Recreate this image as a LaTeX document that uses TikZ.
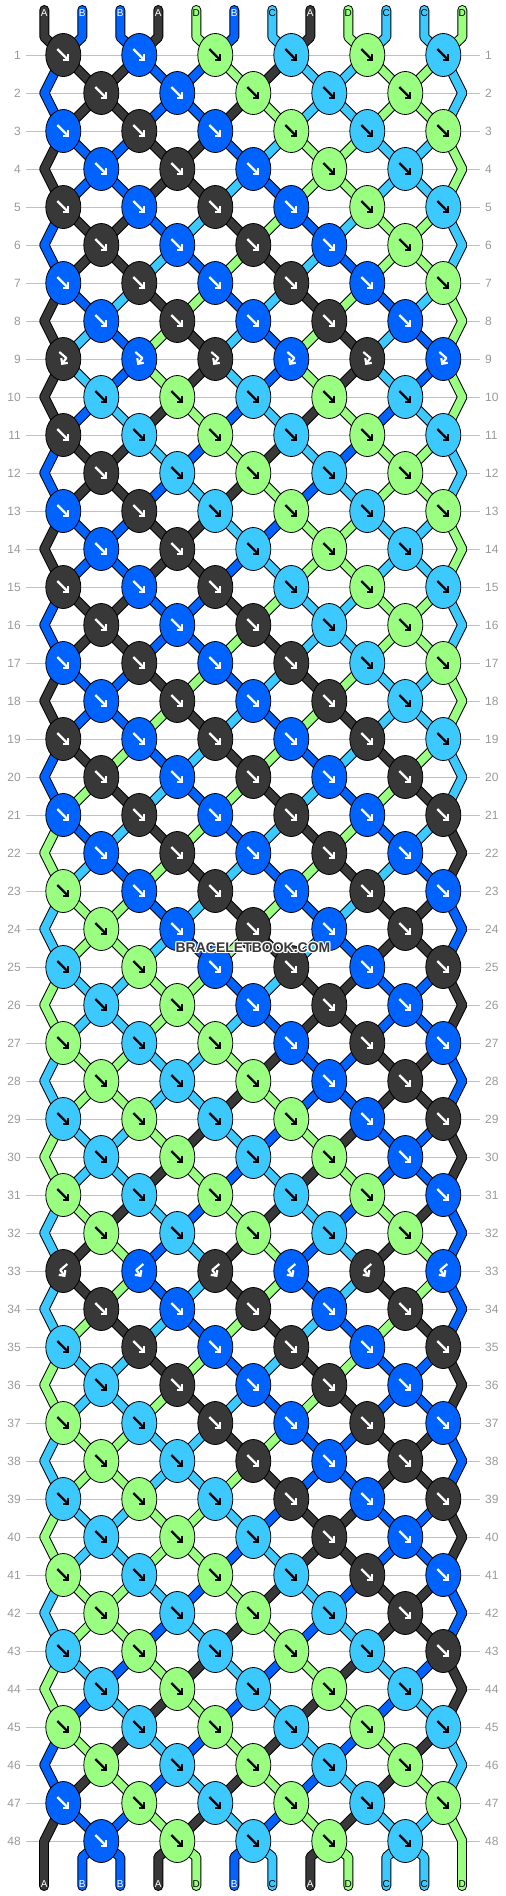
\documentclass[tikz,border=0pt]{standalone}
\usepackage{fontspec}
\setmainfont{Liberation Sans}
\usetikzlibrary{arrows.meta}
\usetikzlibrary{shapes.geometric}

\definecolor{colA}{HTML}{383838}
\definecolor{colB}{HTML}{0062FF}
\definecolor{colC}{HTML}{3BC9FF}
\definecolor{colD}{HTML}{9AFF80}
\colorlet{arrA}{white}
\colorlet{arrB}{white}
\colorlet{arrC}{black}
\colorlet{arrD}{black}
\definecolor{rowgray}{HTML}{999999}
\definecolor{linegray}{HTML}{C0C0C0}

\pgfdeclarelayer{grid}
\pgfdeclarelayer{threadout}
\pgfdeclarelayer{threadin}
\pgfsetlayers{grid,threadout,threadin,main}

\def\typef{f}
\def\typebf{bf}

\tikzset{
  knot/.style={ellipse,draw=black,line width=0.8pt,minimum width=35pt,minimum height=43pt,inner sep=0pt},
  karrow/.style={line width=2.2pt,line join=round,-{Straight Barb[length=4pt,width=8pt]}},
  outline/.style={draw=black,line width=10pt,line cap=round,line join=round},
  thread/.style={draw=col#1,line width=8pt,line cap=round,line join=round},
  rownum/.style={font=\fontsize{12}{12}\selectfont,text=rowgray,inner sep=0pt},
  endlabel/.style={font=\fontsize{10}{10}\selectfont,inner sep=0pt},
  gridline/.style={draw=linegray,line width=1pt},
  tipf/.pic={\draw[karrow] (-6,-6) -- (6,6);},
  tipfb/.pic={\draw[karrow] (-4,-7) -- (3,-1) -- (-2,6);},
  tipbf/.pic={\draw[karrow] (4,-7) -- (-3,-1) -- (2,6);},
}

% every thread segment, row by row (#1 = outline or thread)
\newcommand\drawthreads[1]{%
  \foreach \r in {1,...,49}{
    \pgfmathtruncatemacro\odd{mod(\r,2)}
    \pgfmathtruncatemacro\rp{\r-1}
    \foreach \i in {1,...,12}{
      \edef\sc{\csname th-\r-\i\endcsname}
      \pgfmathtruncatemacro\jt{(\i+\odd)/2}
      \pgfmathtruncatemacro\js{(\i+1-\odd)/2}
      \ifnum\r=1
        \draw[#1=\sc] ([yshift=3pt]t-\i.center) -- ++(0,27) -- (k-1-\jt.center);
      \else\ifnum\r=49
        \draw[#1=\sc] (k-48-\js.center) -- ([yshift=27pt]b-\i.center) -- ([yshift=-2pt]b-\i.center);
      \else
        \draw[#1=\sc] (k-\rp-\js.center) -- (k-\r-\jt.center);
      \fi\fi
    }
  }%
}

\begin{document}
\begin{tikzpicture}[x=1pt,y=-1pt]
\useasboundingbox (0,0) rectangle (506,1896);

% threads at the top
\foreach \i/\sc in {1/A,2/B,3/B,4/A,5/D,6/B,7/C,8/A,9/D,10/C,11/C,12/D}{
  \expandafter\xdef\csname str\i\endcsname{\sc}
  \pgfmathsetmacro\sx{6.3+38*\i}
  \node[endlabel,text=arr\sc] (t-\i) at (\sx,13) {\sc};
}

\foreach \r in {1,...,48}{
  \pgfmathtruncatemacro\odd{mod(\r,2)}
  \pgfmathsetmacro\ny{17+38*\r}
  \ifnum\r=9 \def\ktype{fb}\else\ifnum\r=33 \def\ktype{bf}\else\def\ktype{f}\fi\fi
  \ifnum\odd=1 \def\nk{6}\else\def\nk{5}\fi

  % row numbers
  \node[rownum,anchor=east] (rl-\r) at (21,\ny) {\r};
  \node[rownum,anchor=west] (rr-\r) at (485,\ny) {\r};

  % knots of this row
  \ifnum\odd=0
    \coordinate (k-\r-0) at (44.3,\ny);
    \coordinate (k-\r-6) at (462.3,\ny);
  \fi
  \foreach \j in {1,...,\nk}{
    \pgfmathtruncatemacro\posl{\odd==1 ? 2*\j-1 : 2*\j}
    \pgfmathtruncatemacro\posr{\posl+1}
    \pgfmathsetmacro\kx{\odd==1 ? 76*\j-12.7 : 76*\j+25.3}
    \ifx\ktype\typebf
      \edef\kcol{\csname str\posr\endcsname}
    \else
      \edef\kcol{\csname str\posl\endcsname}
    \fi
    \node[knot,fill=col\kcol] (k-\r-\j) at (\kx,\ny) {};
    \pic[color=arr\kcol] at (k-\r-\j) {tip\ktype};
  }

  % remember the threads coming into this row
  \foreach \i in {1,...,12}{
    \expandafter\xdef\csname th-\r-\i\endcsname{\csname str\i\endcsname}
  }

  % forward knots swap the two threads
  \ifx\ktype\typef
    \foreach \j in {1,...,\nk}{
      \pgfmathtruncatemacro\posl{\odd==1 ? 2*\j-1 : 2*\j}
      \pgfmathtruncatemacro\posr{\posl+1}
      \edef\tmpl{\csname str\posl\endcsname}
      \edef\tmpr{\csname str\posr\endcsname}
      \expandafter\xdef\csname str\posl\endcsname{\tmpr}
      \expandafter\xdef\csname str\posr\endcsname{\tmpl}
    }
  \fi
}

% threads at the bottom
\foreach \i in {1,...,12}{
  \edef\sc{\csname str\i\endcsname}
  \expandafter\xdef\csname th-49-\i\endcsname{\sc}
  \pgfmathsetmacro\sx{6.3+38*\i}
  \node[endlabel,text=arr\sc] (b-\i) at (\sx,1884) {\sc};
}

\begin{pgfonlayer}{grid}
  \foreach \r in {1,...,48}
    \draw[gridline] ([xshift=5pt]rl-\r.east) -- ([xshift=-5pt]rr-\r.west);
\end{pgfonlayer}
\begin{pgfonlayer}{threadout}
  \drawthreads{outline}
\end{pgfonlayer}
\begin{pgfonlayer}{threadin}
  \drawthreads{thread}
\end{pgfonlayer}

% watermark
\foreach \dx/\dy [count=\n] in {-1/-1,0/-1,1/-1,-1/0,1/0,-1/1,0/1,1/1}
  \node[font=\bfseries\fontsize{14}{14}\selectfont,text=white] (halo-\n) at (253+\dx,947.5+\dy) {BRACELETBOOK.COM};
\node[font=\bfseries\fontsize{14}{14}\selectfont,text=colA] (mark) at (253,947.5) {BRACELETBOOK.COM};
\end{tikzpicture}
\end{document}
